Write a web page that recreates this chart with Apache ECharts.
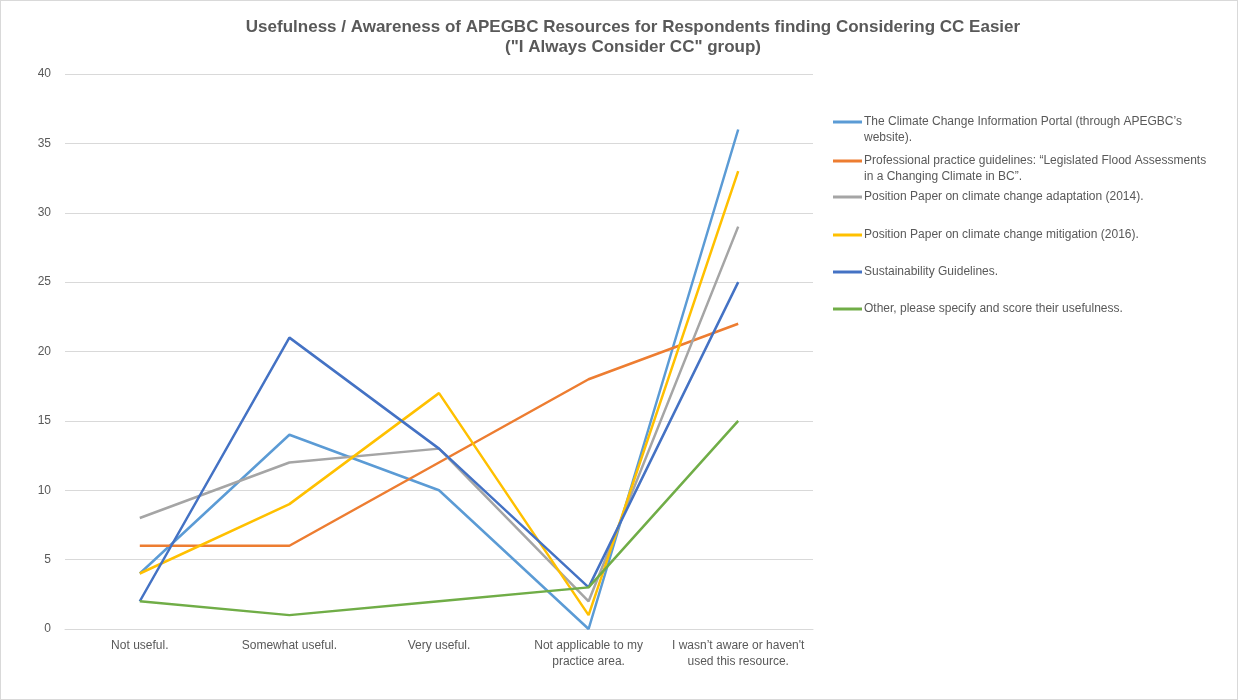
<!DOCTYPE html>
<html><head><meta charset="utf-8">
<script src="https://cdn.jsdelivr.net/npm/echarts@6/dist/echarts.min.js"></script>
<style>html,body{margin:0;padding:0;background:#fff}#c{width:1238px;height:700px;box-sizing:border-box;border:1px solid #D9D9D9}</style>
</head><body><div id="c"></div>
<script>
const categories = ["Not useful.", "Somewhat useful.", "Very useful.", "Not applicable to my practice area.", "I wasn\u2019t aware or haven't used this resource."];
const seriesNames = [
  "The Climate Change Information Portal (through APEGBC\u2019s website).",
  "Professional practice guidelines: \u201cLegislated Flood Assessments in a Changing Climate in BC\u201d.",
  "Position Paper on climate change adaptation (2014).",
  "Position Paper on climate change mitigation (2016).",
  "Sustainability Guidelines.",
  "Other, please specify and score their usefulness."
];
const portal = [4, 14, 10, 0, 36];
const floodGuidelines = [6, 6, 12, 18, 22];
const adaptation = [8, 12, 13, 2, 29];
const mitigation = [4, 9, 17, 1, 33];
const sustainability = [2, 21, 13, 3, 25];
const other = [2, 1, 2, 3, 15];
const yTicks = [0, 5, 10, 15, 20, 25, 30, 35, 40];

const values = [portal, floodGuidelines, adaptation, mitigation, sustainability, other];
const colors = ["#5B9BD5", "#ED7D31", "#A5A5A5", "#FFC000", "#4472C4", "#70AD47"];
const wrapped = {};
wrapped[seriesNames[0]] = "The Climate Change Information Portal (through APEGBC\u2019s\nwebsite).";
wrapped[seriesNames[1]] = "Professional practice guidelines: \u201cLegislated Flood Assessments\nin a Changing Climate in BC\u201d.";
const legendCenters = [121, 160, 196, 234, 271, 308];

const xLabelWrap = {
  "Not applicable to my practice area.": "Not applicable to my\npractice area.",
  "I wasn\u2019t aware or haven't used this resource.": "I wasn\u2019t aware or haven't\nused this resource."
};

// icon for two-line legend entries: the stroke sits on the first text line
const topLineIcon = 'path://M0,0L0.01,0L0.01,0.01Z M0,6.6L29,6.6L29,9.4L0,9.4Z M0,31.99L0.01,31.99L0.01,32Z';

const chart = echarts.init(document.getElementById('c'));
chart.setOption({
  animation: false,
  textStyle: {fontFamily: "Liberation Sans, Arial, sans-serif"},
  title: {
    text: "Usefulness / Awareness of APEGBC Resources for Respondents finding Considering CC Easier\n(\"I Always Consider CC\" group)",
    left: 627, top: 11, textAlign: 'center',
    textStyle: {fontSize: 17, fontWeight: 'bold', color: '#595959', lineHeight: 20, fontFamily: "Liberation Sans, Arial, sans-serif"}
  },
  legend: seriesNames.map((n, i) => {
    const two = !!wrapped[n];
    return {
      data: [n], orient: 'vertical', left: 832, top: legendCenters[i] - 8,
      itemWidth: 29, itemHeight: two ? 32 : 3, itemGap: 0, padding: 0,
      icon: two ? topLineIcon : 'rect',
      itemStyle: {borderWidth: 0},
      formatter: name => wrapped[name] || name,
      textStyle: {fontSize: 12, color: '#595959', lineHeight: 16, padding: [0, 0, 0, -3]}
    };
  }),
  grid: {left: 64, right: 424, top: 73, bottom: 70, containLabel: false},
  xAxis: {
    type: 'category', data: categories, boundaryGap: true,
    axisLine: {lineStyle: {color: '#D9D9D9', width: 1}},
    axisTick: {show: false},
    axisLabel: {color: '#595959', fontSize: 12, margin: 9, lineHeight: 16, interval: 0,
      formatter: v => xLabelWrap[v] || v}
  },
  yAxis: {
    type: 'value', min: yTicks[0], max: yTicks[yTicks.length - 1], interval: 5,
    axisLine: {show: false}, axisTick: {show: false},
    axisLabel: {color: '#595959', fontSize: 12, margin: 14},
    splitLine: {lineStyle: {color: '#D9D9D9', width: 1}}
  },
  series: seriesNames.map((n, i) => ({
    name: n, type: 'line', data: values[i], showSymbol: false, symbol: 'none',
    lineStyle: {width: 2.5, color: colors[i]}, itemStyle: {color: colors[i]}
  }))
});
</script></body></html>
